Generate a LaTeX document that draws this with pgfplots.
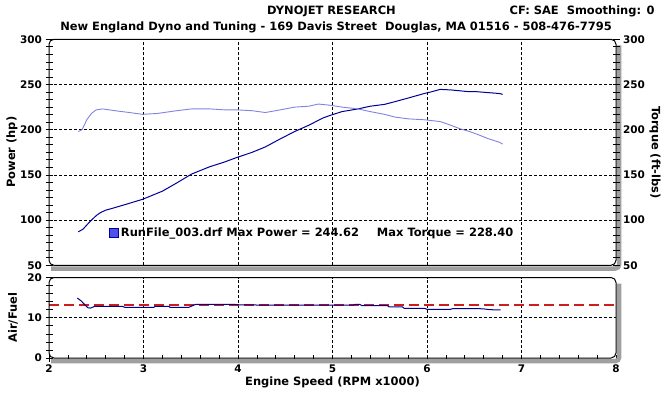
\documentclass[border=0pt]{standalone}
\usepackage{fontspec}
\setmainfont{DejaVu Sans}
\usepackage{pgfplots}
\pgfplotsset{compat=1.18}
\definecolor{pwr}{RGB}{0,0,150}
\definecolor{trq}{RGB}{130,130,225}
\definecolor{afrline}{RGB}{0,0,140}
\definecolor{afrref}{RGB}{205,30,30}
\definecolor{shadowgray}{RGB}{160,160,160}
\definecolor{legfill}{RGB}{80,80,235}
\newcommand{\dynofont}{\bfseries\fontsize{10.5}{12}\selectfont}
\newcommand{\txtfont}{\bfseries\fontsize{11.5}{13}\selectfont}

\pgfplotsset{
 dyno/.style={
  scale only axis, width=567bp, xmin=2, xmax=8, anchor=south west,
  axis line style={draw=none},
  tick style={black, line width=0.7bp},
  major tick length=7bp, minor tick length=7bp,
  tick align=center,
  major grid style={black, line width=0.7bp, dash pattern=on 3bp off 2bp},
  tick label style={font=\dynofont, text=black},
  /pgf/number format/assume math mode=true,
 },
 dynoframe/.style={
  after end axis/.append code={
   \draw[shadowgray, line width=4.5bp, rounded corners=4bp] ([xshift=3.2bp,yshift=-6bp]rel axis cs:1,1) -- ([xshift=3.2bp,yshift=-3.2bp]rel axis cs:1,0) -- ([xshift=2bp,yshift=-3.2bp]rel axis cs:0,0);
   \draw[black, line width=1bp, rounded corners=5bp] (rel axis cs:0,0) rectangle (rel axis cs:1,1);
  }
 }
}

\begin{document}
\begin{tikzpicture}[x=1bp,y=1bp]
\path[use as bounding box] (0,0) rectangle (664,392);
\node[font=\txtfont] at (331.5,381) {DYNOJET RESEARCH};
\node[font=\txtfont, anchor=east] at (658,381) {CF: SAE\ \ Smoothing: 0};
\node[font=\txtfont] at (336,365) {New England Dyno and Tuning - 169 Davis Street\ \ Douglas, MA 01516 - 508-476-7795};

% ---- Power axis (left) ----
\begin{axis}[dyno, dynoframe, at={(49bp,126.7bp)}, height=226bp,
 ymin=50, ymax=300, ytick={50,100,...,300}, minor y tick num=5, ytick pos=left,
 xtick={3,4,5,6,7}, xticklabels={}, xmajorgrids=true, xtick style={draw=none},
 extra y ticks={100,150,200,250}, extra y tick labels={},
 extra y tick style={ymajorgrids=true, major tick length=0pt},
 ylabel={Power (hp)},
 every axis y label/.style={at={([xshift=-37bp]rel axis cs:0,0.5)}, rotate=90, anchor=center, font=\txtfont},
 legend style={at={(axis cs:2.635,86.3)}, anchor=west, draw=none, fill=none, inner sep=0pt, font=\txtfont},
]
\addlegendimage{legend image code/.code={\draw[draw=pwr, fill=legfill, line width=0.8bp] (0bp,-4.5bp) rectangle (9bp,4.5bp);}}
\addlegendentry{RunFile\_003.drf Max Power = 244.62\hspace{18bp}Max Torque = 228.40}
\addplot[pwr, line width=1bp, forget plot] coordinates {
(2.31,87) (2.36,90) (2.43,98) (2.50,105) (2.54,108) (2.60,111) (2.67,113)
(2.80,117) (2.99,123) (3.20,132) (3.35,141) (3.51,151) (3.70,159) (3.85,164)
(3.98,169) (4.15,175) (4.29,181) (4.45,190) (4.60,198) (4.75,205) (4.90,213)
(4.98,216) (5.10,220) (5.27,223) (5.40,226) (5.55,228) (5.66,231) (5.80,235)
(5.97,240) (6.05,242) (6.14,244.6) (6.25,244) (6.35,243) (6.45,242) (6.53,242)
(6.65,241) (6.77,240) (6.80,239)
};
\end{axis}

% ---- Torque axis (right) ----
\begin{axis}[dyno, at={(49bp,126.7bp)}, height=226bp,
 ymin=50, ymax=300, ytick={50,100,...,300}, minor y tick num=5,
 ytick pos=right, yticklabel pos=right,
 xtick=\empty,
 ylabel={Torque (ft-lbs)},
 every axis y label/.style={at={([xshift=39bp]rel axis cs:1,0.5)}, rotate=-90, anchor=center, font=\txtfont},
]
\addplot[trq, line width=0.9bp] coordinates {
(2.31,198) (2.35,200) (2.40,211) (2.45,218) (2.50,222) (2.57,223) (2.70,221)
(2.85,219) (2.99,217) (3.15,218) (3.35,221) (3.51,223) (3.70,223) (3.85,222)
(3.98,222) (4.15,221) (4.29,219) (4.45,222) (4.60,225) (4.75,226) (4.85,228.4)
(4.98,227) (5.10,225) (5.27,223) (5.40,220) (5.55,217) (5.66,214) (5.80,212)
(5.97,211) (6.14,209) (6.25,205) (6.35,201) (6.45,198) (6.53,195) (6.65,190)
(6.77,186) (6.80,184)
};
\end{axis}

% ---- Air/Fuel axis ----
\begin{axis}[dyno, dynoframe, at={(49bp,34bp)}, height=80.5bp,
 ymin=0, ymax=20, ytick={0,10,20}, minor y tick num=4, ytick pos=left,
 xtick={2,3,...,8}, minor x tick num=4, xtick pos=bottom,
 extra x ticks={3,4,5,6,7}, extra x tick labels={},
 extra x tick style={xmajorgrids=true, major tick length=0pt},
 extra y ticks={10}, extra y tick labels={},
 extra y tick style={ymajorgrids=true, major tick length=0pt},
 ylabel={Air/Fuel},
 every axis y label/.style={at={([xshift=-36bp]rel axis cs:0,0.5)}, rotate=90, anchor=center, font=\txtfont},
 xlabel={Engine Speed (RPM x1000)},
 every axis x label/.style={at={([yshift=-24bp]rel axis cs:0.5,0)}, anchor=center, font=\txtfont},
]
\addplot[draw=afrref, color=afrref, line width=1.3bp, dash pattern=on 10bp off 5bp] coordinates {(2,13.15) (8,13.15)};
\addplot[afrline, line width=1bp] coordinates {
(2.30,14.9) (2.34,14.2) (2.38,13.2) (2.41,12.5) (2.44,12.4) (2.48,12.8) (2.78,12.8)
(2.80,12.6) (3.11,12.6) (3.12,12.8) (3.27,12.8) (3.28,12.6) (3.48,12.6) (3.52,13.0)
(3.55,13.3) (3.98,13.3) (4.00,13.2) (4.18,13.2) (4.20,13.15) (5.22,13.15) (5.24,13.35)
(5.29,13.35) (5.31,13.0) (5.58,13.0) (5.60,12.7) (5.74,12.7) (5.76,12.3) (5.98,12.3)
(6.00,12.1) (6.25,12.1) (6.27,12.25) (6.56,12.25) (6.60,12.2) (6.67,12.0) (6.78,11.95)
};
\end{axis}
\end{tikzpicture}
\end{document}
